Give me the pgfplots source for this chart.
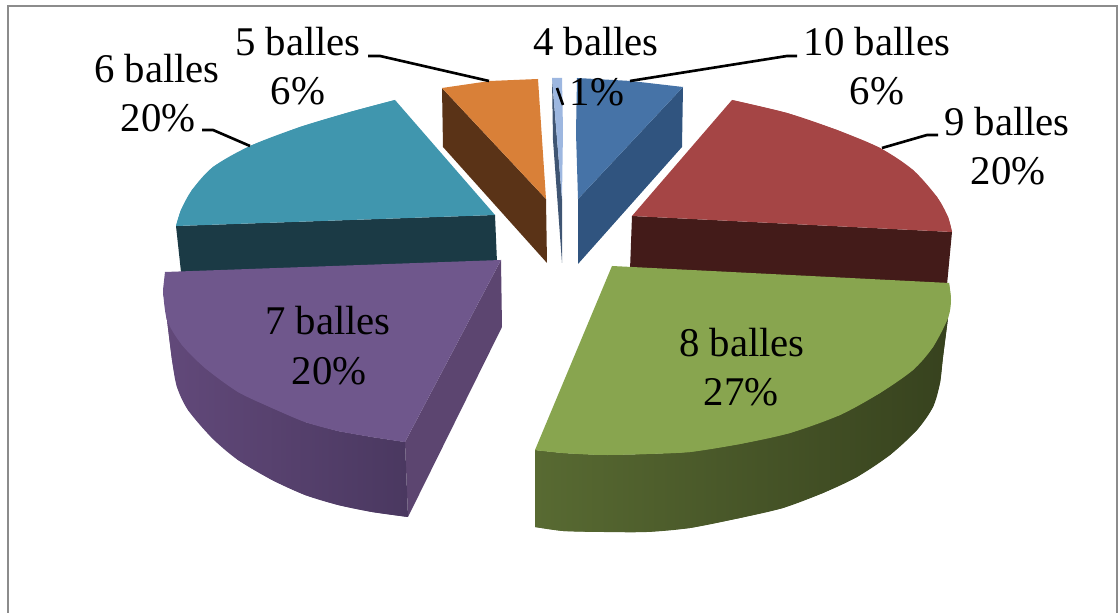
\documentclass[border=0pt]{standalone}
\usepackage{fontspec}
\setmainfont{Liberation Serif}
\usepackage{pgfplots}
\pgfplotsset{compat=1.18}

\definecolor{blueT}{HTML}{4673A7}
\definecolor{blueS}{HTML}{30547F}
\definecolor{orangeT}{HTML}{D98038}
\definecolor{orangeS}{HTML}{5A3317}
\definecolor{paleT}{HTML}{9DB7E0}
\definecolor{paleS}{HTML}{3F5573}
\definecolor{tealT}{HTML}{4096AE}
\definecolor{tealS}{HTML}{1B3A45}
\definecolor{redT}{HTML}{A54545}
\definecolor{redS}{HTML}{431B19}
\definecolor{purpleT}{HTML}{6F578C}
\definecolor{purpleS}{HTML}{5C4570}
\definecolor{purpleA}{HTML}{62497A}
\definecolor{purpleB}{HTML}{4A3860}
\definecolor{greenT}{HTML}{88A54F}
\definecolor{greenA}{HTML}{586A32}
\definecolor{greenB}{HTML}{37421E}
\definecolor{frame}{HTML}{8C8C8C}

\newcommand{\lab}[3]{\node[anchor=base,inner sep=0pt,font=\fontsize{11.6}{14}\selectfont] at (axis cs:#1,#2) {#3};}

\begin{document}
\begin{tikzpicture}
\begin{axis}[
    scale only axis,
    width=11.19cm, height=6.13cm,
    xmin=0, xmax=1119,
    ymin=0, ymax=613,
    y dir=reverse,
    hide axis,
    clip=false
]
% keeps the whole axis area in the page
\addplot[draw=none] coordinates {(0,0)(1119,613)};
% frame, open at the bottom
\addplot[frame, line width=0.6pt] coordinates {(8,613)(8,6)(1117,6)(1117,613)};

% 6 balles
\addplot[fill=tealS, draw=none] coordinates {(176,226)(181,272)(497,262)(495,215)} --cycle;
\addplot[fill=tealT, draw=none] coordinates {(395,100)(350,112)(300,127)(250,146)(213,167)(192,190)(181,210)(176,226)(495,215)} --cycle;
\addplot[smooth, fill=tealT, draw=none] coordinates {(395,100)(350,112)(300,127)(250,146)(213,167)(192,190)(181,210)(176,226)} --cycle;

% 9 balles
\addplot[fill=redS, draw=none] coordinates {(632,216)(952,232)(947,285)(630,270)} --cycle;
\addplot[fill=redT, draw=none] coordinates {(632,216)(732,100)(787,113)(837,130)(880,148)(913,170)(937,197)(948,217)(952,232)} --cycle;
\addplot[smooth, fill=redT, draw=none] coordinates {(732,100)(787,113)(837,130)(880,148)(913,170)(937,197)(948,217)(952,232)} --cycle;

% 7 balles
\addplot[fill=purpleS, draw=none] coordinates {(501,260)(502,327)(408,517)(405,442)} --cycle;
\addplot[left color=purpleA, right color=purpleB, draw=none] coordinates {(163,290)(167,320)(172,360)(177,387)(188,410)(212,438)(238,460)(272,480)(305,495)(338,505)(372,512)(408,517)(405,442)(372,437)(338,431)(305,422)(272,408)(238,392)(205,368)(182,345)} --cycle;
\addplot[smooth, left color=purpleA, right color=purpleB, draw=none] coordinates {(163,290)(167,320)(172,360)(177,387)(188,410)(212,438)(238,460)(272,480)(305,495)(338,505)(372,512)(408,517)} --cycle;
\addplot[fill=purpleT, draw=none] coordinates {(165,272)(501,260)(405,442)(372,437)(338,431)(305,422)(272,408)(238,392)(205,368)(182,345)(167,320)(163,290)} --cycle;
\addplot[smooth, fill=purpleT, draw=none] coordinates {(163,290)(167,320)(182,345)(205,368)(238,392)(272,408)(305,422)(338,431)(372,437)(405,442)} --cycle;

% 8 balles
\addplot[left color=greenA, middle color=greenB, right color=greenB, draw=none] coordinates {(948,318)(943,357)(940,383)(933,407)(917,430)(890,455)(857,477)(823,493)(783,508)(740,518)(690,528)(647,532)(603,532)(563,531)(535,527)(535,450)(563,453)(603,455)(647,454)(690,452)(740,444)(790,433)(840,415)(880,393)(913,370)(933,347)} --cycle;
\addplot[smooth, left color=greenA, middle color=greenB, right color=greenB, draw=none] coordinates {(948,318)(943,357)(940,383)(933,407)(917,430)(890,455)(857,477)(823,493)(783,508)(740,518)(690,528)(647,532)(603,532)(563,531)(535,527)} --cycle;
\addplot[fill=greenT, draw=none] coordinates {(612,266)(949,283)(951,300)(948,318)(933,347)(913,370)(880,393)(840,415)(790,433)(740,444)(690,452)(647,454)(603,455)(563,453)(535,450)} --cycle;
\addplot[smooth, fill=greenT, draw=none] coordinates {(949,283)(951,300)(948,318)(933,347)(913,370)(880,393)(840,415)(790,433)(740,444)(690,452)(647,454)(603,455)(563,453)(535,450)} --cycle;

% 5 balles
\addplot[fill=orangeS, draw=none] coordinates {(442,88)(443,147)(547,263)(546,199)} --cycle;
\addplot[fill=orangeT, draw=none] coordinates {(442,88)(490,81)(538,79)(546,199)} --cycle;

% 4 balles
\addplot[fill=paleS, draw=none] coordinates {(552,78)(553,140)(562,263)(562,199)} --cycle;
\addplot[fill=paleT, draw=none] coordinates {(552,78)(562,78)(563,130)(562,199)} --cycle;

% 10 balles
\addplot[fill=blueS, draw=none] coordinates {(683,87)(682,147)(578,264)(578,199)} --cycle;
\addplot[fill=blueT, draw=none] coordinates {(577,78)(631,81)(683,87)(578,199)(576,133)} --cycle;

% leader lines
\addplot[black, line width=0.75pt] coordinates {(368,56)(380,56)(489,81)};
\addplot[black, line width=0.75pt] coordinates {(202,130)(213,130)(250,146)};
\addplot[black, line width=0.75pt] coordinates {(797,56)(787,56)(630,81)};
\addplot[black, line width=0.75pt] coordinates {(938,135)(927,135)(882,148)};
\addplot[black, line width=0.75pt] coordinates {(557,88)(563,105)};

% labels
\lab{298}{56}{5 balles}
\lab{298}{105}{6\%}
\lab{157}{83}{6 balles}
\lab{158}{132}{20\%}
\lab{596}{56}{4 balles}
\lab{597}{106}{1\%}
\lab{877}{56}{10 balles}
\lab{877}{105}{6\%}
\lab{1007}{136}{9 balles}
\lab{1008}{185}{20\%}
\lab{328}{335}{7 balles}
\lab{329}{385}{20\%}
\lab{742}{357}{8 balles}
\lab{741}{406}{27\%}
\end{axis}
\end{tikzpicture}
\end{document}
